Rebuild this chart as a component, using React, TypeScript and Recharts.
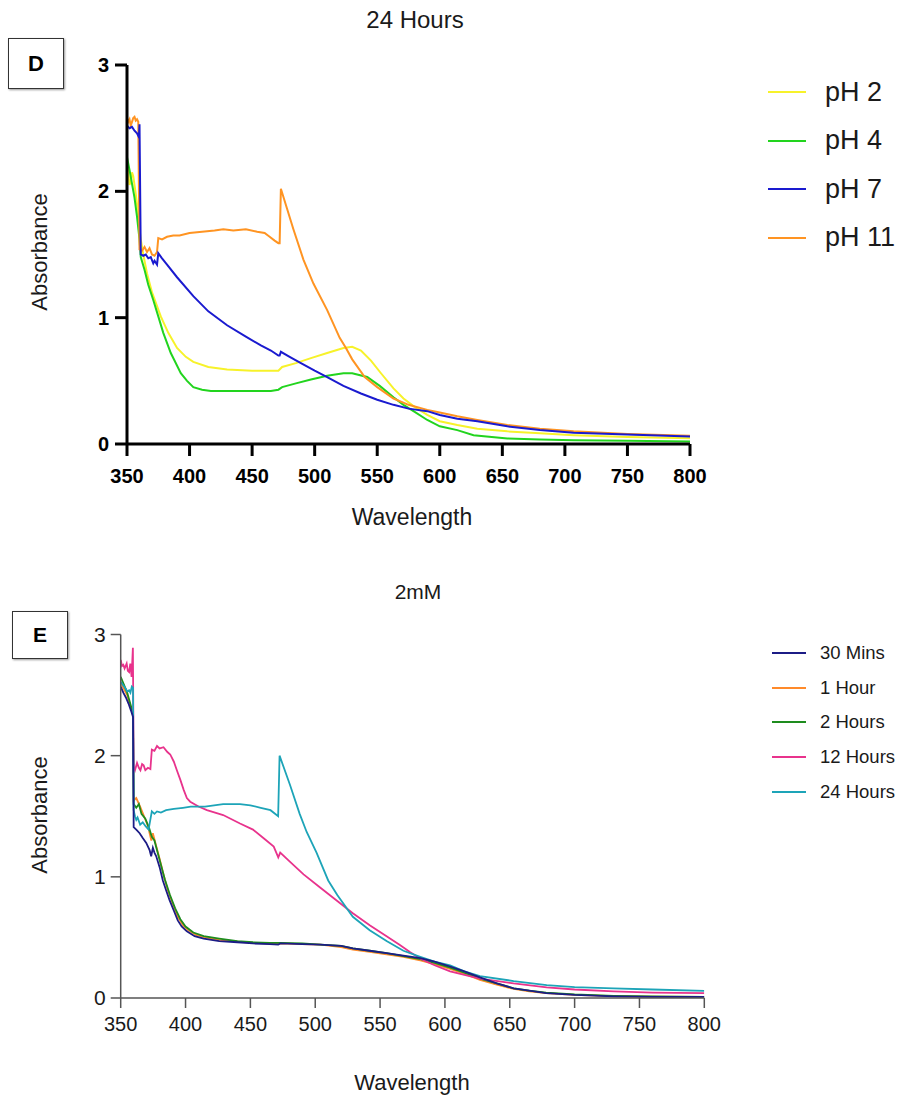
import React from 'react';
import { LineChart, Line, XAxis, YAxis } from 'recharts';

const xTicks = [350, 400, 450, 500, 550, 600, 650, 700, 750, 800];
const yTicks = [0, 1, 2, 3];

// ---- Panel D: 24 Hours, pH series ----
const ph2Wl = [350, 351, 352, 353, 354, 355, 356, 357, 358, 359, 360, 361, 363, 366, 370, 377, 383, 390, 397, 403, 415, 430, 450, 465, 471, 474, 485, 497, 510, 523, 530, 537, 545, 553, 563, 571, 579, 590, 600, 614, 630, 654, 680, 707, 750, 800];
const ph2Abs = [2.25, 2.15, 2.05, 2.08, 2.15, 2.12, 2.05, 1.98, 1.9, 1.8, 1.7, 1.62, 1.5, 1.35, 1.2, 1.01, 0.88, 0.76, 0.69, 0.65, 0.61, 0.59, 0.58, 0.58, 0.58, 0.61, 0.64, 0.68, 0.72, 0.76, 0.77, 0.74, 0.66, 0.56, 0.44, 0.36, 0.3, 0.23, 0.18, 0.15, 0.12, 0.1, 0.085, 0.07, 0.055, 0.045];

const ph4Wl = [350, 352, 354, 356, 358, 360, 361, 364, 367, 371, 375, 379, 385, 393, 398, 403, 410, 417, 430, 450, 465, 471, 474, 485, 497, 510, 523, 530, 542, 552, 563, 571, 579, 590, 600, 614, 627, 654, 680, 707, 750, 800];
const ph4Abs = [2.27, 2.17, 2.06, 1.95, 1.8, 1.62, 1.48, 1.38, 1.26, 1.14, 1.01, 0.88, 0.72, 0.56, 0.5, 0.45, 0.43, 0.42, 0.42, 0.42, 0.42, 0.43, 0.45, 0.48, 0.51, 0.54, 0.56, 0.56, 0.53, 0.46, 0.37, 0.31, 0.26, 0.19, 0.14, 0.11, 0.07, 0.044, 0.035, 0.03, 0.025, 0.02];

const ph7Wl = [350, 352, 354, 356, 358, 359.5, 360, 361, 363, 365, 367, 369, 371, 372, 374, 375, 378, 382, 390, 403, 415, 430, 445, 457, 465, 471, 472, 473, 480, 489, 500, 510, 523, 537, 550, 563, 575, 590, 600, 614, 630, 654, 680, 707, 750, 800];
const ph7Abs = [2.52, 2.5, 2.51, 2.48, 2.46, 2.43, 2.53, 1.5, 1.49, 1.5, 1.47, 1.48, 1.43, 1.45, 1.42, 1.51, 1.47, 1.42, 1.32, 1.17, 1.05, 0.94, 0.85, 0.78, 0.74, 0.7, 0.7, 0.73, 0.69, 0.64, 0.58, 0.53, 0.46, 0.4, 0.35, 0.31, 0.28, 0.26, 0.23, 0.2, 0.18, 0.14, 0.11, 0.09, 0.075, 0.06];

const ph11Wl = [350, 351, 352, 353, 354, 355, 356, 357, 358, 359, 360, 362, 364, 366, 368, 370, 372, 374, 375, 378, 382, 387, 392, 400, 410, 420, 427, 435, 445, 454, 460, 464, 468, 471, 472, 473, 478, 483, 491, 499, 510, 520, 525, 530, 540, 550, 563, 575, 590, 600, 614, 630, 654, 680, 707, 750, 800];
const ph11Abs = [2.58, 2.55, 2.57, 2.52, 2.55, 2.58, 2.59, 2.56, 2.57, 2.55, 1.54, 1.53, 1.56, 1.52, 1.55, 1.5, 1.49, 1.52, 1.63, 1.62, 1.64, 1.65, 1.65, 1.67, 1.68, 1.69, 1.7, 1.69, 1.7, 1.68, 1.67, 1.64, 1.61, 1.59, 1.59, 2.02, 1.86, 1.7, 1.46, 1.27, 1.06, 0.84, 0.76, 0.67, 0.53, 0.45, 0.36, 0.31, 0.27, 0.25, 0.22, 0.19, 0.15, 0.12, 0.1, 0.08, 0.065];

// ---- Panel E: 2mM, time series ----
const m30Wl = [350, 352, 354, 356, 358, 359.5, 360, 362, 364.6, 367, 369.7, 372.3, 373.5, 374.8, 376, 377.4, 380, 382.5, 385, 387.6, 391, 394, 397, 401, 407, 414, 426, 440, 452, 465, 471.5, 473, 490, 504, 520, 529, 542, 555, 568, 581, 592, 604, 615, 627, 640, 653, 665, 678, 700, 730, 760, 800];
const m30Abs = [2.57, 2.52, 2.48, 2.43, 2.37, 2.32, 1.41, 1.39, 1.36, 1.32, 1.28, 1.22, 1.17, 1.24, 1.2, 1.17, 1.08, 0.97, 0.89, 0.81, 0.72, 0.64, 0.59, 0.55, 0.51, 0.49, 0.47, 0.46, 0.45, 0.445, 0.44, 0.45, 0.445, 0.44, 0.43, 0.41, 0.39, 0.37, 0.35, 0.33, 0.3, 0.26, 0.22, 0.17, 0.12, 0.08, 0.06, 0.04, 0.025, 0.014, 0.01, 0.01];

const h1Wl = [350, 355, 359.5, 360, 362, 365, 368, 371, 373.6, 374.8, 377, 380, 383, 386, 390, 394, 398, 402, 408, 415, 426, 440, 452, 465, 473, 490, 504, 520, 529, 542, 555, 568, 581, 592, 604, 615, 627, 640, 653, 665, 678, 700, 730, 760, 800];
const h1Abs = [2.6, 2.5, 2.33, 1.63, 1.65, 1.58, 1.5, 1.42, 1.3, 1.36, 1.27, 1.15, 1.02, 0.9, 0.78, 0.67, 0.6, 0.56, 0.52, 0.5, 0.48, 0.465, 0.455, 0.45, 0.45, 0.445, 0.44, 0.42, 0.4, 0.38, 0.36, 0.34, 0.31, 0.28, 0.24, 0.2, 0.15, 0.11, 0.075, 0.055, 0.04, 0.025, 0.015, 0.012, 0.01];

const h2Wl = [350, 355, 359.5, 360, 362, 364, 366, 369, 372, 374, 376, 378, 381, 384, 388, 392, 396, 400, 406, 414, 426, 440, 452, 465, 473, 490, 504, 520, 529, 542, 555, 568, 581, 592, 604, 615, 627, 640, 653, 665, 678, 700, 730, 760, 800];
const h2Abs = [2.65, 2.52, 2.35, 1.6, 1.57, 1.6, 1.52, 1.48, 1.4, 1.33, 1.3, 1.22, 1.1, 0.98, 0.85, 0.74, 0.65, 0.59, 0.54, 0.51, 0.49, 0.47, 0.46, 0.455, 0.455, 0.45, 0.44, 0.43, 0.41, 0.39, 0.37, 0.345, 0.32, 0.29, 0.25, 0.21, 0.16, 0.12, 0.08, 0.06, 0.045, 0.03, 0.018, 0.013, 0.01];

const h12Wl = [350, 351, 352, 353, 354.6, 355.5, 356.5, 357.4, 358.4, 359.4, 360, 361, 362.6, 364, 365.2, 366.5, 367.7, 369, 371, 372.9, 374, 376, 378, 380, 383, 386, 388.2, 391, 393.3, 396, 398.5, 401, 403.6, 410, 416.5, 429, 442, 452, 460, 468, 471.5, 473, 480, 491, 504, 517, 529, 542, 555, 565, 573, 582, 592, 604, 615, 627, 653, 678.5, 700, 730, 760, 800];
const h12Abs = [2.79, 2.74, 2.75, 2.72, 2.76, 2.7, 2.69, 2.76, 2.65, 2.89, 1.91, 1.88, 1.94, 1.9, 1.88, 1.93, 1.92, 1.88, 1.9, 1.89, 2.05, 2.04, 2.08, 2.06, 2.07, 2.03, 2.01, 1.95, 1.88, 1.8, 1.72, 1.65, 1.62, 1.58, 1.55, 1.51, 1.44, 1.39, 1.32, 1.25, 1.16, 1.2, 1.13, 1.02, 0.91, 0.8, 0.7, 0.6, 0.51, 0.44, 0.38, 0.32, 0.27, 0.22, 0.19, 0.16, 0.12, 0.088, 0.07, 0.055, 0.045, 0.04];

const h24Wl = [350, 352, 354, 355, 356.5, 357.5, 358.6, 359.5, 360, 361, 362, 363, 365, 367, 369, 371.5, 374, 376, 378, 381, 385, 391, 398, 404, 415, 429, 442, 450, 458, 465.5, 471.4, 472.5, 480.5, 488, 493.4, 501, 510, 517, 529, 542, 555, 568, 581, 592, 604, 615, 627, 653, 678.5, 700, 730, 760, 800];
const h24Abs = [2.61, 2.58, 2.55, 2.53, 2.54, 2.52, 2.57, 2.56, 1.55, 1.5, 1.47, 1.49, 1.43, 1.45, 1.42, 1.39, 1.54, 1.52, 1.54, 1.53, 1.55, 1.56, 1.57, 1.58, 1.58, 1.6, 1.6, 1.59, 1.57, 1.55, 1.5, 2.0, 1.76, 1.52, 1.37, 1.2, 0.97, 0.85, 0.67, 0.56, 0.47, 0.39, 0.34, 0.3, 0.27, 0.22, 0.18, 0.14, 0.107, 0.09, 0.08, 0.07, 0.058];

const toData = (wl: number[], abs: number[]) => wl.map((w, i) => ({ wl: w, abs: abs[i] }));

const FONT = "'Liberation Sans', Arial, sans-serif";

const topSeries = [
  { name: 'pH 2', wl: ph2Wl, abs: ph2Abs, color: '#F7F22A' },
  { name: 'pH 4', wl: ph4Wl, abs: ph4Abs, color: '#22D41E' },
  { name: 'pH 11', wl: ph11Wl, abs: ph11Abs, color: '#FF9422' },
  { name: 'pH 7', wl: ph7Wl, abs: ph7Abs, color: '#1A1ACF' },
];
const topLegend = [
  { name: 'pH 2', color: '#F7F22A' },
  { name: 'pH 4', color: '#22D41E' },
  { name: 'pH 7', color: '#1A1ACF' },
  { name: 'pH 11', color: '#FF9422' },
];

const botSeries = [
  { name: '1 Hour', wl: h1Wl, abs: h1Abs, color: '#FF8A2A' },
  { name: '2 Hours', wl: h2Wl, abs: h2Abs, color: '#1E8C1E' },
  { name: '12 Hours', wl: h12Wl, abs: h12Abs, color: '#E8338C' },
  { name: '24 Hours', wl: h24Wl, abs: h24Abs, color: '#1DA4B8' },
  { name: '30 Mins', wl: m30Wl, abs: m30Abs, color: '#1C1C86' },
];
const botLegend = [
  { name: '30 Mins', color: '#1C1C86' },
  { name: '1 Hour', color: '#FF8A2A' },
  { name: '2 Hours', color: '#1E8C1E' },
  { name: '12 Hours', color: '#E8338C' },
  { name: '24 Hours', color: '#1DA4B8' },
];

const abs = (s: React.CSSProperties): React.CSSProperties => ({ position: 'absolute', ...s });

function centered(text: string, cx: number, cy: number, size: number, extra: React.CSSProperties = {}) {
  return (
    <div style={abs({ left: cx - 150, top: cy - size, width: 300, height: size * 2, display: 'flex', alignItems: 'center', justifyContent: 'center', fontSize: size, fontFamily: FONT, color: '#1a1a1a', whiteSpace: 'nowrap', ...extra })}>
      {text}
    </div>
  );
}

export default function App() {
  return (
    <div style={{ position: 'absolute', left: 0, top: 0, width: 901, height: 1101, overflow: 'hidden', background: '#fff' }}>
      {/* Panel D */}
      <div style={abs({ left: 0, top: 0 })}>
        <LineChart width={901} height={560} margin={{ top: 65, left: 67, right: 211, bottom: 66 }}>
          <XAxis
            type="number"
            dataKey="wl"
            domain={[350, 800]}
            ticks={xTicks}
            allowDataOverflow
            height={50}
            axisLine={{ stroke: '#000', strokeWidth: 3 }}
            tickLine={{ stroke: '#000', strokeWidth: 3 }}
            tickSize={12}
            tickMargin={13}
            tick={{ fill: '#000', fontSize: 20, fontWeight: 'bold', fontFamily: FONT }}
          />
          <YAxis
            type="number"
            domain={[0, 3]}
            ticks={yTicks}
            width={60}
            axisLine={{ stroke: '#000', strokeWidth: 3 }}
            tickLine={{ stroke: '#000', strokeWidth: 3 }}
            tickSize={12}
            tickMargin={6}
            tick={{ fill: '#000', fontSize: 20, fontWeight: 'bold', fontFamily: FONT }}
          />
          {topSeries.map((s) => (
            <Line key={s.name} data={toData(s.wl, s.abs)} dataKey="abs" name={s.name} type="linear" stroke={s.color} strokeWidth={2} dot={false} isAnimationActive={false} />
          ))}
        </LineChart>
      </div>
      {centered('24 Hours', 415, 20, 24)}
      {centered('Wavelength', 412, 517, 23)}
      <div style={abs({ left: 40 - 150, top: 252 - 19, width: 300, height: 38, display: 'flex', alignItems: 'center', justifyContent: 'center', fontSize: 22, fontFamily: FONT, color: '#1a1a1a', transform: 'rotate(-90deg)' })}>Absorbance</div>
      <div style={abs({ left: 8, top: 38, width: 54, height: 49, border: '1.5px solid #333', boxShadow: '1px 1px 2px #999', display: 'flex', alignItems: 'center', justifyContent: 'center', fontSize: 22, fontWeight: 'bold', fontFamily: FONT, background: '#fff' })}>D</div>
      {topLegend.map((l, i) => (
        <div key={l.name} style={abs({ left: 768, top: 92 + i * 48.5 - 18, height: 36, display: 'flex', alignItems: 'center', whiteSpace: 'nowrap' })}>
          <div style={{ width: 38, height: 0, borderTop: `2px solid ${l.color}` }} />
          <span style={{ marginLeft: 19, fontSize: 27, fontFamily: FONT, color: '#1a1a1a' }}>{l.name}</span>
        </div>
      ))}

      {/* Panel E */}
      <div style={abs({ left: 0, top: 570 })}>
        <LineChart width={901} height={531} margin={{ top: 64.5, left: 60.7, right: 196.7, bottom: 53 }}>
          <XAxis
            type="number"
            dataKey="wl"
            domain={[350, 800]}
            ticks={xTicks}
            allowDataOverflow
            height={50}
            axisLine={{ stroke: '#555', strokeWidth: 1.5 }}
            tickLine={{ stroke: '#555', strokeWidth: 1.5 }}
            tickSize={10}
            tickMargin={9}
            tick={{ fill: '#1a1a1a', fontSize: 20, fontFamily: FONT }}
          />
          <YAxis
            type="number"
            domain={[0, 3]}
            ticks={yTicks}
            width={60}
            axisLine={{ stroke: '#555', strokeWidth: 1.5 }}
            tickLine={{ stroke: '#555', strokeWidth: 1.5 }}
            tickSize={10}
            tickMargin={5}
            tick={{ fill: '#1a1a1a', fontSize: 21, fontFamily: FONT }}
          />
          {botSeries.map((s) => (
            <Line key={s.name} data={toData(s.wl, s.abs)} dataKey="abs" name={s.name} type="linear" stroke={s.color} strokeWidth={1.8} dot={false} isAnimationActive={false} />
          ))}
        </LineChart>
      </div>
      {centered('2mM', 418, 592, 21)}
      {centered('Wavelength', 412, 1083, 22)}
      <div style={abs({ left: 40 - 150, top: 815 - 19, width: 300, height: 38, display: 'flex', alignItems: 'center', justifyContent: 'center', fontSize: 22, fontFamily: FONT, color: '#1a1a1a', transform: 'rotate(-90deg)' })}>Absorbance</div>
      <div style={abs({ left: 12, top: 611, width: 54, height: 46, border: '1.5px solid #333', boxShadow: '1px 1px 2px #999', display: 'flex', alignItems: 'center', justifyContent: 'center', fontSize: 21, fontWeight: 'bold', fontFamily: FONT, background: '#fff' })}>E</div>
      {botLegend.map((l, i) => (
        <div key={l.name} style={abs({ left: 772, top: 653 + i * 34.7 - 14, height: 28, display: 'flex', alignItems: 'center', whiteSpace: 'nowrap' })}>
          <div style={{ width: 34, height: 0, borderTop: `2px solid ${l.color}` }} />
          <span style={{ marginLeft: 14, fontSize: 18.5, fontFamily: FONT, color: '#1a1a1a' }}>{l.name}</span>
        </div>
      ))}
    </div>
  );
}
